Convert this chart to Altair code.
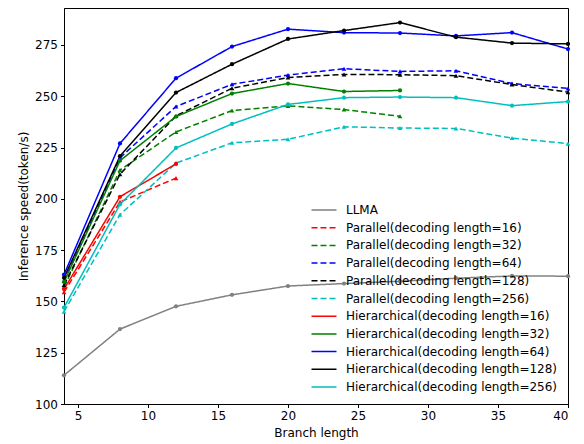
import altair as alt
import pandas as pd

branch = [4, 8, 12, 16, 20, 24, 28, 32, 36, 40]

names = [
    "LLMA",
    "Parallel(decoding length=16)",
    "Parallel(decoding length=32)",
    "Parallel(decoding length=64)",
    "Parallel(decoding length=128)",
    "Parallel(decoding length=256)",
    "Hierarchical(decoding length=16)",
    "Hierarchical(decoding length=32)",
    "Hierarchical(decoding length=64)",
    "Hierarchical(decoding length=128)",
    "Hierarchical(decoding length=256)",
]

llma = [114, 136.5, 147.6, 153.2, 157.5, 158.7, 159.8, 161.3, 162.4, 162.3]
par16 = [154.5, 198.5, 210.1]
par32 = [157, 214, 232.6, 243, 245.3, 243.5, 240.2]
par64 = [160, 220, 245, 255.8, 260.3, 263.4, 262.1, 262.4, 256.2, 253.8]
par128 = [158, 212, 240.4, 253.9, 259.1, 260.6, 260.5, 260, 255.7, 252]
par256 = [145, 192.3, 217.4, 227.3, 229, 235.1, 234.5, 234.3, 229.6, 226.9]
hier16 = [156, 201, 217]
hier32 = [159.5, 218.6, 240.1, 251.3, 256.2, 252.3, 252.8]
hier64 = [163, 227, 258.8, 274.2, 282.7, 281, 280.8, 279.4, 281, 273]
hier128 = [161.5, 220.8, 251.8, 265.6, 277.9, 282, 285.9, 278.8, 275.9, 275.5]
hier256 = [147, 197.3, 224.8, 236.5, 246, 249.3, 249.6, 249.3, 245.4, 247.4]

series = [llma, par16, par32, par64, par128, par256,
          hier16, hier32, hier64, hier128, hier256]

colors = ["#808080", "#ff0000", "#008000", "#0000ff", "#000000", "#00bfbf",
          "#ff0000", "#008000", "#0000ff", "#000000", "#00bfbf"]
dashes = [[1, 0]] + [[6, 3]] * 5 + [[1, 0]] * 5

rows = []
for name, vals in zip(names, series):
    for x, y in zip(branch, vals):
        rows.append({"branch": x, "speed": y, "series": name, "grp": name,
                     "kind": "par" if name.startswith("Parallel") else "dot"})
df = pd.DataFrame(rows)

xenc = alt.X("branch:Q", scale=alt.Scale(domain=[4, 40], nice=False, zero=False),
             axis=alt.Axis(values=[5, 10, 15, 20, 25, 30, 35, 40], title="Branch length"))
yenc = alt.Y("speed:Q", scale=alt.Scale(domain=[100, 293], nice=False, zero=False),
             axis=alt.Axis(values=[100, 125, 150, 175, 200, 225, 250, 275],
                           title="Inference speed(token/s)"))

legend = alt.Legend(orient="none", legendX=254, legendY=196,
                    symbolType="M-2.5,0H2.5", symbolSize=100,
                    symbolStrokeWidth=1.5, rowPadding=5.7,
                    labelOffset=16, labelFontSize=12,
                    labelFont="DejaVu Sans", labelColor="black",
                    padding=0, labelLimit=400, title=None)

lines = alt.Chart(df).mark_line(strokeWidth=1.5).encode(
    x=xenc, y=yenc,
    color=alt.Color("series:N", scale=alt.Scale(domain=names, range=colors),
                    title=None, legend=legend),
    strokeDash=alt.StrokeDash("series:N", scale=alt.Scale(domain=names, range=dashes),
                              title=None, legend=legend),
    detail="series:N",
)

fill = alt.Fill("grp:N", scale=alt.Scale(domain=names, range=colors), legend=None)

tri = alt.Chart(df).transform_filter(alt.datum.kind == "par").mark_point(
    filled=True, size=22, opacity=1, strokeWidth=0, shape="triangle-up"
).encode(x=xenc, y=yenc, fill=fill)

dots = alt.Chart(df).transform_filter(alt.datum.kind == "dot").mark_point(
    filled=True, size=18, opacity=1, strokeWidth=0, shape="circle"
).encode(x=xenc, y=yenc, fill=fill)

chart = alt.layer(lines, tri, dots).properties(
    width=504, height=396,
    autosize=alt.AutoSizeParams(type="none"),
    padding={"left": 56, "top": 0, "right": 8, "bottom": 40},
).configure_view(
    stroke="black", strokeWidth=1
).configure_axis(
    grid=False, domainColor="black", tickColor="black", tickSize=3.5,
    labelFontSize=12, titleFontSize=12, labelFont="DejaVu Sans",
    titleFont="DejaVu Sans", labelColor="black", titleColor="black",
    titleFontWeight="normal", labelPadding=3,
).configure_axisX(titlePadding=6)

chart.save("out.html", embed_options={"renderer": "svg", "actions": False})
